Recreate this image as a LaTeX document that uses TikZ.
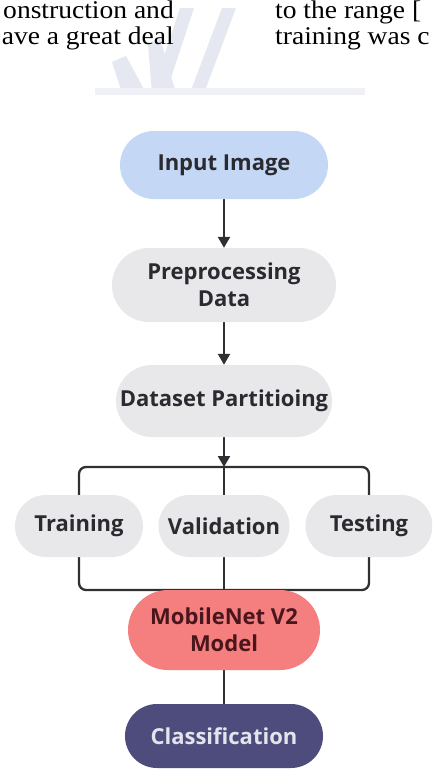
\documentclass[tikz,border=0pt]{standalone}
\usepackage{fontspec}
\setmainfont{Open Sans}
\newfontfamily\serifpaper[FakeStretch=1.08]{Liberation Serif}
\usetikzlibrary{shapes.misc,arrows.meta,backgrounds}
\definecolor{pillgray}{RGB}{232,232,235}
\definecolor{inblue}{RGB}{196,216,246}
\definecolor{salmon}{RGB}{245,126,126}
\definecolor{navyslate}{RGB}{77,76,125}
\definecolor{txtdark}{RGB}{42,42,48}
\definecolor{maroontxt}{RGB}{72,22,28}
\definecolor{clstxt}{RGB}{228,228,238}
\definecolor{linegray}{RGB}{48,48,52}
\definecolor{wmark}{RGB}{229,231,241}
\begin{document}
\begin{tikzpicture}[x=1pt,y=-1pt,
  pill/.style={rounded rectangle, fill=pillgray, draw=none, text=txtdark, align=center, inner sep=0pt,
    font=\fontsize{22}{27}\selectfont\bfseries},
  conn/.style={draw=linegray, line width=2.3pt},
  arr/.style={conn, -{Triangle[length=11pt,width=12pt]}},
  papertext/.style={inner sep=0pt, text=black, text height=17pt, text depth=5pt,
    font=\serifpaper\fontsize{25.5}{26}\selectfont},
  wm/.style={fill=wmark, draw=none}
]
\useasboundingbox (0,0) rectangle (432,772);
\clip (0,0) rectangle (432,772);

% watermark
\begin{pgfonlayer}{background}
\fill[white] (0,0) rectangle (432,772);
\fill[wm] (112,62) -- (126,56) -- (146,93) -- (122,93) -- cycle;
\fill[wm] (148,44) -- (160,38) -- (176,93) -- (152,93) -- cycle;
\fill[wm] (180,8) -- (194,8) -- (166,93) -- (152,93) -- cycle;
\fill[wm] (222,8) -- (236,8) -- (204,93) -- (190,93) -- cycle;
\fill[wmark!60!white] (95,88) rectangle (365,95);
\end{pgfonlayer}

% fragments of the surrounding page text
\node[papertext, anchor=base east] (t1) at (174,18) {onstruction and};
\node[papertext, anchor=base east] (t2) at (174,44) {ave a great deal};
\node[papertext, anchor=base west] (t3) at (275,18) {to the range [};
\node[papertext, anchor=base west] (t4) at (275,44) {training was c};

% flowchart nodes
\node[pill, fill=inblue, minimum width=208pt, minimum height=68pt] (input) at (224,165) {Input Image};
\node[pill, minimum width=224pt, minimum height=74pt] (prep) at (224,285) {Preprocessing\\Data};
\node[pill, minimum width=216pt, minimum height=72pt] (part) at (224,401) {Dataset Partitioing};
\node[pill, minimum width=128pt, minimum height=62pt] (train) at (79,526) {Training};
\node[pill, minimum width=131pt, minimum height=62pt] (valid) at (224,526) {Validation};
\node[pill, minimum width=127pt, minimum height=62pt] (test) at (369,526) {Testing};
\node[pill, fill=salmon, text=maroontxt, minimum width=192pt, minimum height=80pt] (model) at (224,630) {MobileNet V2\\Model};
\node[pill, fill=navyslate, text=clstxt, minimum width=198pt, minimum height=64pt] (cls) at (224,736) {Classification};

\coordinate (split) at (224,467);
\coordinate (join) at (224,590);

\begin{pgfonlayer}{background}
\draw[arr] (input.south) -- (prep.north);
\draw[arr] (prep.south) -- (part.north);
\draw[arr] (part.south) -- (split);
\draw[conn, rounded corners=7pt] (train.north) |- (split) -| (test.north);
\draw[conn] (split) -- (valid.north);
\draw[conn, rounded corners=7pt] (train.south) |- (join) -| (test.south);
\draw[conn] (valid.south) -- (model.north);
\draw[conn] (model.south) -- (cls.north);
\end{pgfonlayer}
\end{tikzpicture}
\end{document}
